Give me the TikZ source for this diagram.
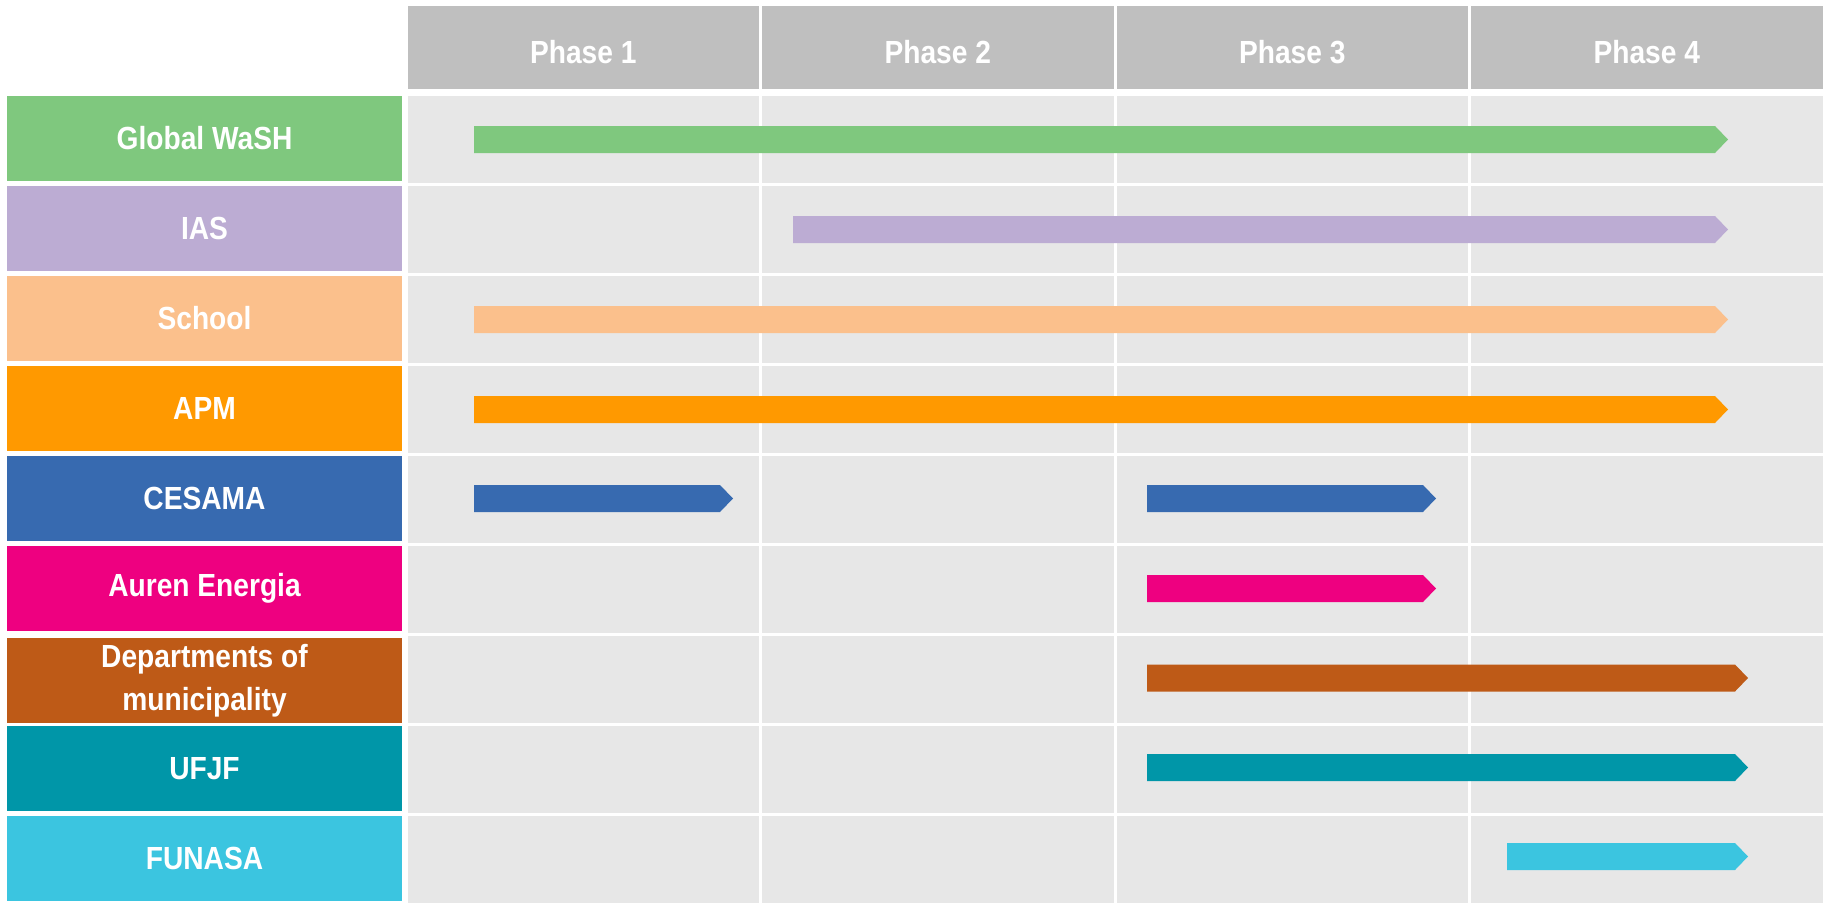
\documentclass[tikz,border=0pt]{standalone}
\usepackage{fontspec}
\setmainfont{Liberation Sans}[FakeStretch=0.88]
\definecolor{cwash}{RGB}{127,200,126}
\definecolor{cias}{RGB}{188,172,211}
\definecolor{cschool}{RGB}{251,192,140}
\definecolor{capm}{RGB}{255,153,0}
\definecolor{ccesama}{RGB}{55,106,176}
\definecolor{cauren}{RGB}{238,0,128}
\definecolor{cdept}{RGB}{190,90,23}
\definecolor{cufjf}{RGB}{0,150,168}
\definecolor{cfunasa}{RGB}{59,197,224}
\definecolor{chdr}{RGB}{191,191,191}
\definecolor{ccell}{RGB}{231,231,231}
\newcommand\ganttbar[4]{% colour, y centre, x start, x tip
  \fill[#1] (#3,{#2-13.5}) -- ({#4-13},{#2-13.5}) -- (#4,#2) -- ({#4-13},{#2+13.5}) -- (#3,{#2+13.5}) -- cycle;}
\begin{document}
\begin{tikzpicture}[x=0.5pt,y=-0.5pt,
  lbl/.style={rectangle, minimum width=197.5pt, minimum height=42.5pt, inner sep=0pt,
    text=white, align=center, font=\fontsize{16}{21.5}\selectfont\bfseries},
  hdrtxt/.style={inner sep=0pt, text=white, font=\fontsize{16}{20}\selectfont\bfseries}]
\useasboundingbox (0,0) rectangle (1831,910);
\fill[white] (0,0) rectangle (1831,910);
% header cells
\foreach \k in {0,...,3}{
  \fill[chdr] ({406+354.5*\k+1.5},6) rectangle ({406+354.5*(\k+1)-1.5},89);
}
% grid cells
\foreach \i in {0,...,8}{
  \foreach \k in {0,...,3}{
    \fill[ccell] ({406+354.5*\k+1.5},{95.5+90*\i}) rectangle ({406+354.5*(\k+1)-1.5},{182.5+90*\i});
  }
}
% header texts
\node[hdrtxt] (ph1) at (583.25,52) {Phase 1};
\node[hdrtxt] (ph2) at (937.75,52) {Phase 2};
\node[hdrtxt] (ph3) at (1292.25,52) {Phase 3};
\node[hdrtxt] (ph4) at (1646.75,52) {Phase 4};
% row labels
\node[lbl, fill=cwash]   (wash)   at (204.5,138.5) {Global WaSH};
\node[lbl, fill=cias]    (ias)    at (204.5,228.5) {IAS};
\node[lbl, fill=cschool] (school) at (204.5,318.5) {School};
\node[lbl, fill=capm]    (apm)    at (204.5,408.5) {APM};
\node[lbl, fill=ccesama] (cesama) at (204.5,498.5) {CESAMA};
\node[lbl, fill=cauren]  (auren)  at (204.5,588.5) {Auren Energia};
\node[lbl, fill=cdept]   (dept)   at (204.5,680.5) {Departments of\\municipality};
\node[lbl, fill=cufjf]   (ufjf)   at (204.5,768.5) {UFJF};
\node[lbl, fill=cfunasa] (funasa) at (204.5,858.5) {FUNASA};
% bars
\ganttbar{cwash}{139.5}{474}{1728}
\ganttbar{cias}{229.5}{793}{1728}
\ganttbar{cschool}{319.5}{474}{1728}
\ganttbar{capm}{409.5}{474}{1728}
\ganttbar{ccesama}{498.5}{474}{733}
\ganttbar{ccesama}{498.5}{1147}{1436}
\ganttbar{cauren}{588.5}{1147}{1436}
\ganttbar{cdept}{678}{1147}{1748}
\ganttbar{cufjf}{767.5}{1147}{1748}
\ganttbar{cfunasa}{856.5}{1507}{1748}
\end{tikzpicture}
\end{document}
